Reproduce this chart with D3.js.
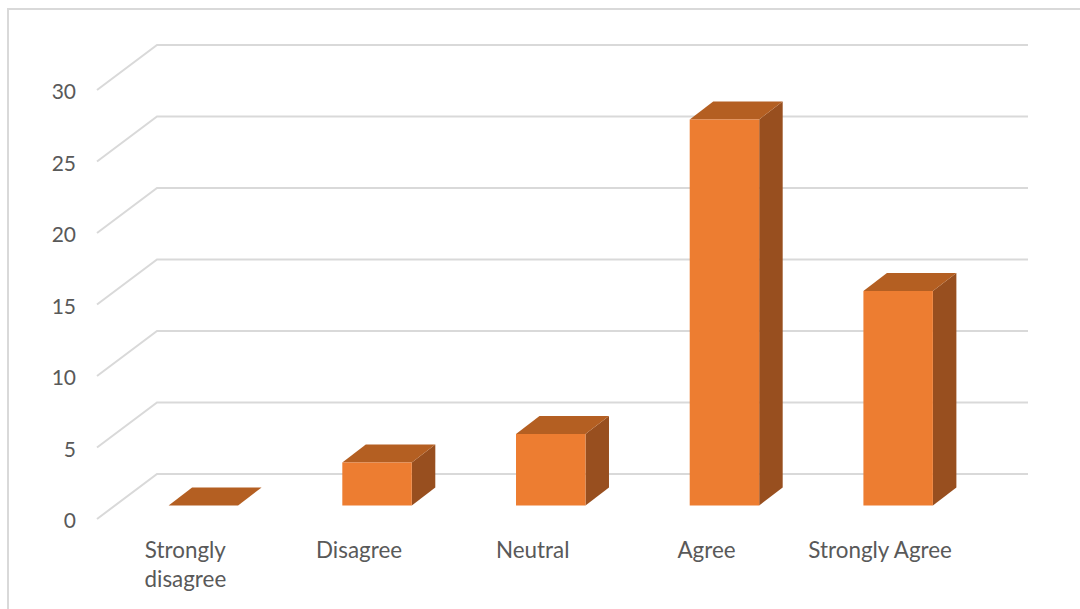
<!DOCTYPE html>
<html>
<head>
<meta charset="utf-8">
<script src="https://cdnjs.cloudflare.com/ajax/libs/d3/7.8.5/d3.min.js"></script>
<style>
  html, body { margin: 0; padding: 0; background: #fff; }
  svg { display: block; }
  .tick text { font-family: Lato, "Open Sans", sans-serif; fill: #595959; }
  .y-axis .tick text { font-size: 21px; }
  .x-axis .tick text { font-size: 22.4px; }
</style>
</head>
<body>
<svg width="1080" height="609"></svg>
<script>
var categories = ["Strongly disagree", "Disagree", "Neutral", "Agree", "Strongly Agree"];
var values = [0, 3, 5, 27, 15];
var yTicks = [0, 5, 10, 15, 20, 25, 30];

var width = 1080, height = 609;
var svg = d3.select("svg");

// front edge of the floor, the back wall sits at an oblique offset from it
var y = d3.scaleLinear().domain([0, 30]).range([519, 90]);
var x = d3.scaleBand().domain(categories).range([116.5, 985]).paddingInner(0.6).paddingOuter(0.3);
var wall = { dx: 60, dy: -45 };
var barLift = -13.5;
var barDepth = { dx: 23.5, dy: -18 };
var wallRight = 1028;

// chart frame
svg.append("path")
  .attr("d", "M8," + height + "V9H" + width)
  .attr("fill", "none")
  .attr("stroke", "#d9d9d9")
  .attr("stroke-width", 2);

// gridlines run up the side wall then along the back wall
svg.append("g").selectAll("path")
  .data(yTicks)
  .enter().append("path")
    .attr("d", function(d) {
      return "M97," + y(d) + "L" + (97 + wall.dx) + "," + (y(d) + wall.dy) + "H" + wallRight;
    })
    .attr("fill", "none")
    .attr("stroke", "#d9d9d9")
    .attr("stroke-width", 2);

var yAxis = d3.axisLeft(y).tickValues(yTicks).tickSize(0).tickPadding(0);
svg.append("g")
  .attr("class", "y-axis")
  .attr("transform", "translate(76,2)")
  .call(yAxis)
  .call(function(g) { g.select(".domain").remove(); });

// each bar is three faces: side, top, front
var bars = svg.append("g").selectAll("g")
  .data(categories.map(function(c, i) { return { name: c, value: values[i] }; }))
  .enter().append("g");

function face(fn) {
  return function(d) {
    var x0 = x(d.name), x1 = x0 + x.bandwidth();
    var y0 = y(0) + barLift, y1 = y(d.value) + barLift;
    return fn(x0, x1, y0, y1);
  };
}

bars.filter(function(d) { return d.value > 0; }).append("path")
  .attr("fill", "#984f1f")
  .attr("d", face(function(x0, x1, y0, y1) {
    return "M" + x1 + "," + y0 + "V" + y1 + "l" + barDepth.dx + "," + barDepth.dy +
      "V" + (y0 + barDepth.dy) + "Z";
  }));

bars.append("path")
  .attr("fill", "#b45f22")
  .attr("d", face(function(x0, x1, y0, y1) {
    return "M" + x0 + "," + y1 + "H" + x1 + "l" + barDepth.dx + "," + barDepth.dy +
      "H" + (x0 + barDepth.dx) + "Z";
  }));

bars.append("path")
  .attr("fill", "#ed7d31")
  .attr("d", face(function(x0, x1, y0, y1) {
    return "M" + x0 + "," + y0 + "V" + y1 + "H" + x1 + "V" + y0 + "Z";
  }));

// category labels sit on the front floor edge, left of the bar fronts
var xAxis = d3.axisBottom(x).tickSize(0).tickPadding(0);
var xg = svg.append("g")
  .attr("class", "x-axis")
  .attr("transform", "translate(-18,542)")
  .call(xAxis)
  .call(function(g) { g.select(".domain").remove(); });

// "Strongly disagree" breaks onto two lines
xg.selectAll(".tick text").each(function(d) {
  var t = d3.select(this);
  if (d !== "Strongly disagree") return;
  var words = d.split(" ");
  t.text(null);
  words.forEach(function(w, i) {
    t.append("tspan")
      .attr("x", 0)
      .attr("dy", i ? 29 : "0.71em")
      .text(w);
  });
});
</script>
</body>
</html>
